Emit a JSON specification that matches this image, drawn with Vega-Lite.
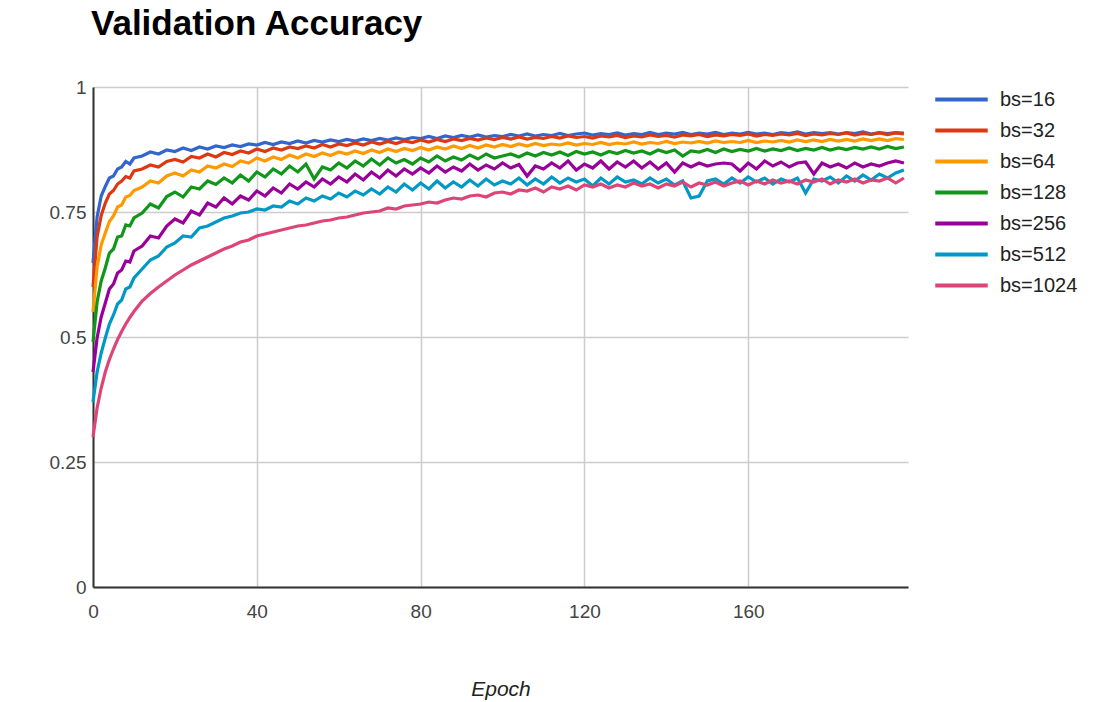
{
  "$schema": "https://vega.github.io/schema/vega-lite/v6.json",
  "width": 815,
  "height": 500,
  "autosize": {"type": "none"},
  "padding": {"left": 93, "top": 87, "right": 203, "bottom": 115},
  "background": "#ffffff",
  "title": {
    "text": "Validation Accuracy",
    "anchor": "start",
    "frame": "group",
    "font": "Liberation Sans",
    "fontSize": 35,
    "fontWeight": "bold",
    "color": "#000000",
    "baseline": "alphabetic",
    "offset": 8,
    "dx": -2
  },
  "data": {
    "values": [
      {"e":0,"bs=16":0.648,"bs=32":0.600,"bs=64":0.550,"bs=128":0.490,"bs=256":0.430,"bs=512":0.370,"bs=1024":0.300},
      {"e":1,"bs=16":0.740,"bs=32":0.700,"bs=64":0.640,"bs=128":0.570,"bs=256":0.498,"bs=512":0.430,"bs=1024":0.358},
      {"e":2,"bs=16":0.782,"bs=32":0.743,"bs=64":0.684,"bs=128":0.612,"bs=256":0.540,"bs=512":0.468,"bs=1024":0.398},
      {"e":3,"bs=16":0.801,"bs=32":0.768,"bs=64":0.708,"bs=128":0.638,"bs=256":0.568,"bs=512":0.498,"bs=1024":0.430},
      {"e":4,"bs=16":0.818,"bs=32":0.786,"bs=64":0.731,"bs=128":0.668,"bs=256":0.596,"bs=512":0.526,"bs=1024":0.455},
      {"e":5,"bs=16":0.822,"bs=32":0.793,"bs=64":0.742,"bs=128":0.676,"bs=256":0.606,"bs=512":0.544,"bs=1024":0.476},
      {"e":6,"bs=16":0.836,"bs=32":0.806,"bs=64":0.760,"bs=128":0.700,"bs=256":0.628,"bs=512":0.566,"bs=1024":0.495},
      {"e":7,"bs=16":0.840,"bs=32":0.812,"bs=64":0.764,"bs=128":0.702,"bs=256":0.634,"bs=512":0.574,"bs=1024":0.511},
      {"e":8,"bs=16":0.851,"bs=32":0.821,"bs=64":0.780,"bs=128":0.724,"bs=256":0.652,"bs=512":0.596,"bs=1024":0.526},
      {"e":9,"bs=16":0.846,"bs=32":0.818,"bs=64":0.783,"bs=128":0.722,"bs=256":0.650,"bs=512":0.600,"bs=1024":0.539},
      {"e":10,"bs=16":0.858,"bs=32":0.832,"bs=64":0.793,"bs=128":0.738,"bs=256":0.672,"bs=512":0.618,"bs=1024":0.551},
      {"e":12,"bs=16":0.862,"bs=32":0.836,"bs=64":0.800,"bs=128":0.748,"bs=256":0.682,"bs=512":0.636,"bs=1024":0.572},
      {"e":14,"bs=16":0.870,"bs=32":0.844,"bs=64":0.812,"bs=128":0.766,"bs=256":0.702,"bs=512":0.654,"bs=1024":0.587},
      {"e":16,"bs=16":0.866,"bs=32":0.840,"bs=64":0.808,"bs=128":0.758,"bs=256":0.698,"bs=512":0.662,"bs=1024":0.600},
      {"e":18,"bs=16":0.874,"bs=32":0.851,"bs=64":0.822,"bs=128":0.781,"bs=256":0.722,"bs=512":0.680,"bs=1024":0.612},
      {"e":20,"bs=16":0.871,"bs=32":0.855,"bs=64":0.828,"bs=128":0.790,"bs=256":0.736,"bs=512":0.688,"bs=1024":0.624},
      {"e":22,"bs=16":0.878,"bs=32":0.850,"bs=64":0.822,"bs=128":0.780,"bs=256":0.728,"bs=512":0.702,"bs=1024":0.634},
      {"e":24,"bs=16":0.873,"bs=32":0.861,"bs=64":0.834,"bs=128":0.800,"bs=256":0.752,"bs=512":0.700,"bs=1024":0.644},
      {"e":26,"bs=16":0.880,"bs=32":0.858,"bs=64":0.830,"bs=128":0.796,"bs=256":0.744,"bs=512":0.718,"bs=1024":0.652},
      {"e":28,"bs=16":0.876,"bs=32":0.866,"bs=64":0.842,"bs=128":0.812,"bs=256":0.768,"bs=512":0.722,"bs=1024":0.660},
      {"e":30,"bs=16":0.882,"bs=32":0.860,"bs=64":0.838,"bs=128":0.805,"bs=256":0.760,"bs=512":0.730,"bs=1024":0.668},
      {"e":32,"bs=16":0.879,"bs=32":0.869,"bs=64":0.846,"bs=128":0.818,"bs=256":0.778,"bs=512":0.738,"bs=1024":0.676},
      {"e":34,"bs=16":0.884,"bs=32":0.865,"bs=64":0.841,"bs=128":0.808,"bs=256":0.766,"bs=512":0.742,"bs=1024":0.682},
      {"e":36,"bs=16":0.881,"bs=32":0.872,"bs=64":0.852,"bs=128":0.824,"bs=256":0.782,"bs=512":0.748,"bs=1024":0.690},
      {"e":38,"bs=16":0.886,"bs=32":0.868,"bs=64":0.848,"bs=128":0.812,"bs=256":0.774,"bs=512":0.750,"bs=1024":0.694},
      {"e":40,"bs=16":0.884,"bs=32":0.876,"bs=64":0.858,"bs=128":0.830,"bs=256":0.792,"bs=512":0.756,"bs=1024":0.702},
      {"e":42,"bs=16":0.889,"bs=32":0.871,"bs=64":0.852,"bs=128":0.820,"bs=256":0.782,"bs=512":0.754,"bs=1024":0.706},
      {"e":44,"bs=16":0.885,"bs=32":0.878,"bs=64":0.860,"bs=128":0.836,"bs=256":0.798,"bs=512":0.762,"bs=1024":0.710},
      {"e":46,"bs=16":0.890,"bs=32":0.874,"bs=64":0.855,"bs=128":0.826,"bs=256":0.788,"bs=512":0.760,"bs=1024":0.714},
      {"e":48,"bs=16":0.887,"bs=32":0.880,"bs=64":0.864,"bs=128":0.842,"bs=256":0.806,"bs=512":0.772,"bs=1024":0.718},
      {"e":50,"bs=16":0.892,"bs=32":0.877,"bs=64":0.858,"bs=128":0.830,"bs=256":0.796,"bs=512":0.766,"bs=1024":0.722},
      {"e":52,"bs=16":0.888,"bs=32":0.882,"bs=64":0.866,"bs=128":0.846,"bs=256":0.810,"bs=512":0.778,"bs=1024":0.724},
      {"e":54,"bs=16":0.893,"bs=32":0.878,"bs=64":0.861,"bs=128":0.816,"bs=256":0.800,"bs=512":0.772,"bs=1024":0.728},
      {"e":56,"bs=16":0.890,"bs=32":0.885,"bs=64":0.868,"bs=128":0.840,"bs=256":0.816,"bs=512":0.782,"bs=1024":0.732},
      {"e":58,"bs=16":0.894,"bs=32":0.880,"bs=64":0.863,"bs=128":0.834,"bs=256":0.806,"bs=512":0.776,"bs=1024":0.734},
      {"e":60,"bs=16":0.891,"bs=32":0.886,"bs=64":0.870,"bs=128":0.848,"bs=256":0.820,"bs=512":0.788,"bs=1024":0.738},
      {"e":62,"bs=16":0.895,"bs=32":0.883,"bs=64":0.866,"bs=128":0.838,"bs=256":0.810,"bs=512":0.780,"bs=1024":0.740},
      {"e":64,"bs=16":0.892,"bs=32":0.888,"bs=64":0.872,"bs=128":0.852,"bs=256":0.826,"bs=512":0.792,"bs=1024":0.744},
      {"e":66,"bs=16":0.896,"bs=32":0.884,"bs=64":0.867,"bs=128":0.842,"bs=256":0.814,"bs=512":0.784,"bs=1024":0.748},
      {"e":68,"bs=16":0.893,"bs=32":0.890,"bs=64":0.874,"bs=128":0.856,"bs=256":0.830,"bs=512":0.796,"bs=1024":0.750},
      {"e":70,"bs=16":0.897,"bs=32":0.886,"bs=64":0.869,"bs=128":0.844,"bs=256":0.818,"bs=512":0.786,"bs=1024":0.752},
      {"e":72,"bs=16":0.894,"bs=32":0.891,"bs=64":0.876,"bs=128":0.858,"bs=256":0.834,"bs=512":0.800,"bs=1024":0.758},
      {"e":74,"bs=16":0.898,"bs=32":0.887,"bs=64":0.871,"bs=128":0.848,"bs=256":0.822,"bs=512":0.790,"bs=1024":0.756},
      {"e":76,"bs=16":0.895,"bs=32":0.892,"bs=64":0.877,"bs=128":0.855,"bs=256":0.836,"bs=512":0.806,"bs=1024":0.762},
      {"e":78,"bs=16":0.899,"bs=32":0.889,"bs=64":0.873,"bs=128":0.846,"bs=256":0.826,"bs=512":0.794,"bs=1024":0.764},
      {"e":80,"bs=16":0.897,"bs=32":0.894,"bs=64":0.879,"bs=128":0.858,"bs=256":0.838,"bs=512":0.808,"bs=1024":0.766},
      {"e":82,"bs=16":0.901,"bs=32":0.890,"bs=64":0.874,"bs=128":0.850,"bs=256":0.828,"bs=512":0.796,"bs=1024":0.770},
      {"e":84,"bs=16":0.897,"bs=32":0.895,"bs=64":0.880,"bs=128":0.862,"bs=256":0.842,"bs=512":0.812,"bs=1024":0.768},
      {"e":86,"bs=16":0.902,"bs=32":0.891,"bs=64":0.876,"bs=128":0.852,"bs=256":0.830,"bs=512":0.798,"bs=1024":0.774},
      {"e":88,"bs=16":0.899,"bs=32":0.896,"bs=64":0.882,"bs=128":0.860,"bs=256":0.840,"bs=512":0.810,"bs=1024":0.778},
      {"e":90,"bs=16":0.903,"bs=32":0.893,"bs=64":0.877,"bs=128":0.854,"bs=256":0.832,"bs=512":0.800,"bs=1024":0.776},
      {"e":92,"bs=16":0.900,"bs=32":0.897,"bs=64":0.883,"bs=128":0.864,"bs=256":0.846,"bs=512":0.814,"bs=1024":0.782},
      {"e":94,"bs=16":0.904,"bs=32":0.894,"bs=64":0.878,"bs=128":0.856,"bs=256":0.834,"bs=512":0.802,"bs=1024":0.784},
      {"e":96,"bs=16":0.900,"bs=32":0.898,"bs=64":0.884,"bs=128":0.866,"bs=256":0.844,"bs=512":0.816,"bs=1024":0.780},
      {"e":98,"bs=16":0.903,"bs=32":0.895,"bs=64":0.880,"bs=128":0.858,"bs=256":0.836,"bs=512":0.804,"bs=1024":0.788},
      {"e":100,"bs=16":0.901,"bs=32":0.899,"bs=64":0.885,"bs=128":0.862,"bs=256":0.848,"bs=512":0.812,"bs=1024":0.790},
      {"e":102,"bs=16":0.905,"bs=32":0.896,"bs=64":0.881,"bs=128":0.866,"bs=256":0.838,"bs=512":0.806,"bs=1024":0.786},
      {"e":104,"bs=16":0.902,"bs=32":0.900,"bs=64":0.886,"bs=128":0.860,"bs=256":0.845,"bs=512":0.818,"bs=1024":0.794},
      {"e":106,"bs=16":0.906,"bs=32":0.896,"bs=64":0.882,"bs=128":0.868,"bs=256":0.822,"bs=512":0.804,"bs=1024":0.792},
      {"e":108,"bs=16":0.902,"bs=32":0.899,"bs=64":0.887,"bs=128":0.862,"bs=256":0.842,"bs=512":0.816,"bs=1024":0.798},
      {"e":110,"bs=16":0.905,"bs=32":0.897,"bs=64":0.883,"bs=128":0.869,"bs=256":0.836,"bs=512":0.806,"bs=1024":0.790},
      {"e":112,"bs=16":0.903,"bs=32":0.901,"bs=64":0.886,"bs=128":0.864,"bs=256":0.848,"bs=512":0.820,"bs=1024":0.800},
      {"e":114,"bs=16":0.907,"bs=32":0.898,"bs=64":0.884,"bs=128":0.870,"bs=256":0.838,"bs=512":0.808,"bs=1024":0.796},
      {"e":116,"bs=16":0.903,"bs=32":0.902,"bs=64":0.888,"bs=128":0.863,"bs=256":0.852,"bs=512":0.818,"bs=1024":0.802},
      {"e":118,"bs=16":0.906,"bs=32":0.899,"bs=64":0.884,"bs=128":0.871,"bs=256":0.834,"bs=512":0.810,"bs=1024":0.794},
      {"e":120,"bs=16":0.908,"bs=32":0.901,"bs=64":0.887,"bs=128":0.866,"bs=256":0.846,"bs=512":0.816,"bs=1024":0.804},
      {"e":122,"bs=16":0.904,"bs=32":0.898,"bs=64":0.885,"bs=128":0.870,"bs=256":0.838,"bs=512":0.802,"bs=1024":0.800},
      {"e":124,"bs=16":0.907,"bs=32":0.902,"bs=64":0.889,"bs=128":0.864,"bs=256":0.852,"bs=512":0.818,"bs=1024":0.806},
      {"e":126,"bs=16":0.905,"bs=32":0.900,"bs=64":0.885,"bs=128":0.871,"bs=256":0.836,"bs=512":0.806,"bs=1024":0.798},
      {"e":128,"bs=16":0.908,"bs=32":0.903,"bs=64":0.888,"bs=128":0.867,"bs=256":0.850,"bs=512":0.820,"bs=1024":0.804},
      {"e":130,"bs=16":0.904,"bs=32":0.899,"bs=64":0.886,"bs=128":0.873,"bs=256":0.840,"bs=512":0.810,"bs=1024":0.800},
      {"e":132,"bs=16":0.907,"bs=32":0.902,"bs=64":0.890,"bs=128":0.868,"bs=256":0.852,"bs=512":0.814,"bs=1024":0.808},
      {"e":134,"bs=16":0.905,"bs=32":0.900,"bs=64":0.886,"bs=128":0.872,"bs=256":0.838,"bs=512":0.806,"bs=1024":0.802},
      {"e":136,"bs=16":0.909,"bs=32":0.904,"bs=64":0.889,"bs=128":0.866,"bs=256":0.850,"bs=512":0.818,"bs=1024":0.806},
      {"e":138,"bs=16":0.905,"bs=32":0.901,"bs=64":0.887,"bs=128":0.874,"bs=256":0.836,"bs=512":0.808,"bs=1024":0.798},
      {"e":140,"bs=16":0.908,"bs=32":0.903,"bs=64":0.891,"bs=128":0.869,"bs=256":0.848,"bs=512":0.816,"bs=1024":0.806},
      {"e":142,"bs=16":0.906,"bs=32":0.900,"bs=64":0.887,"bs=128":0.874,"bs=256":0.830,"bs=512":0.804,"bs=1024":0.802},
      {"e":144,"bs=16":0.909,"bs=32":0.904,"bs=64":0.890,"bs=128":0.862,"bs=256":0.848,"bs=512":0.812,"bs=1024":0.810},
      {"e":146,"bs=16":0.905,"bs=32":0.902,"bs=64":0.888,"bs=128":0.872,"bs=256":0.840,"bs=512":0.778,"bs=1024":0.800},
      {"e":148,"bs=16":0.908,"bs=32":0.905,"bs=64":0.891,"bs=128":0.870,"bs=256":0.848,"bs=512":0.782,"bs=1024":0.808},
      {"e":150,"bs=16":0.906,"bs=32":0.901,"bs=64":0.888,"bs=128":0.875,"bs=256":0.842,"bs=512":0.812,"bs=1024":0.804},
      {"e":152,"bs=16":0.909,"bs=32":0.904,"bs=64":0.892,"bs=128":0.869,"bs=256":0.846,"bs=512":0.816,"bs=1024":0.810},
      {"e":154,"bs=16":0.905,"bs=32":0.902,"bs=64":0.889,"bs=128":0.876,"bs=256":0.848,"bs=512":0.806,"bs=1024":0.802},
      {"e":156,"bs=16":0.908,"bs=32":0.905,"bs=64":0.891,"bs=128":0.871,"bs=256":0.846,"bs=512":0.818,"bs=1024":0.808},
      {"e":158,"bs=16":0.906,"bs=32":0.903,"bs=64":0.889,"bs=128":0.875,"bs=256":0.832,"bs=512":0.808,"bs=1024":0.812},
      {"e":160,"bs=16":0.909,"bs=32":0.906,"bs=64":0.893,"bs=128":0.872,"bs=256":0.848,"bs=512":0.820,"bs=1024":0.804},
      {"e":162,"bs=16":0.906,"bs=32":0.902,"bs=64":0.889,"bs=128":0.877,"bs=256":0.836,"bs=512":0.810,"bs=1024":0.812},
      {"e":164,"bs=16":0.908,"bs=32":0.905,"bs=64":0.892,"bs=128":0.872,"bs=256":0.852,"bs=512":0.818,"bs=1024":0.806},
      {"e":166,"bs=16":0.905,"bs=32":0.903,"bs=64":0.890,"bs=128":0.876,"bs=256":0.842,"bs=512":0.806,"bs=1024":0.814},
      {"e":168,"bs=16":0.909,"bs=32":0.906,"bs=64":0.893,"bs=128":0.873,"bs=256":0.850,"bs=512":0.816,"bs=1024":0.808},
      {"e":170,"bs=16":0.907,"bs=32":0.904,"bs=64":0.890,"bs=128":0.878,"bs=256":0.840,"bs=512":0.810,"bs=1024":0.812},
      {"e":172,"bs=16":0.910,"bs=32":0.907,"bs=64":0.894,"bs=128":0.873,"bs=256":0.848,"bs=512":0.818,"bs=1024":0.806},
      {"e":174,"bs=16":0.906,"bs=32":0.903,"bs=64":0.891,"bs=128":0.877,"bs=256":0.850,"bs=512":0.788,"bs=1024":0.814},
      {"e":176,"bs=16":0.909,"bs=32":0.906,"bs=64":0.894,"bs=128":0.874,"bs=256":0.826,"bs=512":0.816,"bs=1024":0.810},
      {"e":178,"bs=16":0.907,"bs=32":0.904,"bs=64":0.891,"bs=128":0.879,"bs=256":0.848,"bs=512":0.812,"bs=1024":0.816},
      {"e":180,"bs=16":0.909,"bs=32":0.907,"bs=64":0.895,"bs=128":0.874,"bs=256":0.840,"bs=512":0.820,"bs=1024":0.806},
      {"e":182,"bs=16":0.906,"bs=32":0.905,"bs=64":0.892,"bs=128":0.878,"bs=256":0.846,"bs=512":0.808,"bs=1024":0.814},
      {"e":184,"bs=16":0.909,"bs=32":0.908,"bs=64":0.895,"bs=128":0.875,"bs=256":0.838,"bs=512":0.822,"bs=1024":0.810},
      {"e":186,"bs=16":0.907,"bs=32":0.904,"bs=64":0.892,"bs=128":0.879,"bs=256":0.848,"bs=512":0.812,"bs=1024":0.816},
      {"e":188,"bs=16":0.910,"bs=32":0.907,"bs=64":0.896,"bs=128":0.876,"bs=256":0.840,"bs=512":0.824,"bs=1024":0.808},
      {"e":190,"bs=16":0.906,"bs=32":0.905,"bs=64":0.893,"bs=128":0.880,"bs=256":0.846,"bs=512":0.814,"bs=1024":0.814},
      {"e":192,"bs=16":0.909,"bs=32":0.908,"bs=64":0.896,"bs=128":0.876,"bs=256":0.842,"bs=512":0.826,"bs=1024":0.812},
      {"e":194,"bs=16":0.907,"bs=32":0.905,"bs=64":0.893,"bs=128":0.881,"bs=256":0.848,"bs=512":0.818,"bs=1024":0.818},
      {"e":196,"bs=16":0.909,"bs=32":0.908,"bs=64":0.897,"bs=128":0.877,"bs=256":0.852,"bs=512":0.828,"bs=1024":0.808},
      {"e":198,"bs=16":0.908,"bs=32":0.906,"bs=64":0.895,"bs=128":0.880,"bs=256":0.848,"bs=512":0.834,"bs=1024":0.818}
    ]
  },
  "transform": [
    {"fold": ["bs=16","bs=32","bs=64","bs=128","bs=256","bs=512","bs=1024"], "as": ["series","acc"]}
  ],
  "mark": {"type": "line", "strokeWidth": 3.2, "interpolate": "linear"},
  "encoding": {
    "x": {
      "field": "e",
      "type": "quantitative",
      "scale": {"domain": [0, 199], "nice": false, "zero": false},
      "axis": {
        "values": [0, 40, 80, 120, 160],
        "title": "Epoch",
        "titleFont": "Liberation Sans",
        "titleFontSize": 21,
        "titleFontStyle": "italic",
        "titleFontWeight": "normal",
        "titleColor": "#222222",
        "titlePadding": 57,
        "labelPadding": 15,
        "labelFlush": false
      }
    },
    "y": {
      "field": "acc",
      "type": "quantitative",
      "scale": {"domain": [0, 1], "nice": false},
      "axis": {
        "values": [0, 0.25, 0.5, 0.75, 1],
        "labelExpr": "'' + datum.value",
        "title": null,
        "labelPadding": 7,
        "labelFlush": false
      }
    },
    "color": {
      "field": "series",
      "type": "nominal",
      "scale": {
        "domain": ["bs=16","bs=32","bs=64","bs=128","bs=256","bs=512","bs=1024"],
        "range": ["#3366cc","#dc3912","#ff9900","#109618","#990099","#0099c6","#dd4477"]
      },
      "legend": {
        "title": null,
        "orient": "right",
        "offset": 38,
        "symbolType": "M-2.5,0H2.5",
        "symbolSize": 441,
        "symbolStrokeWidth": 4,
        "labelFont": "Liberation Sans",
        "labelFontSize": 20,
        "labelColor": "#222222",
        "labelOffset": 26,
        "rowPadding": 8,
        "padding": 0
      }
    }
  },
  "config": {
    "view": {"stroke": null},
    "axis": {
      "labelFont": "Liberation Sans",
      "labelFontSize": 19,
      "labelColor": "#444444",
      "grid": true,
      "gridColor": "#cccccc",
      "gridWidth": 1.5,
      "domainColor": "#333333",
      "domainWidth": 2,
      "ticks": false,
      "tickSize": 0
    }
  }
}
